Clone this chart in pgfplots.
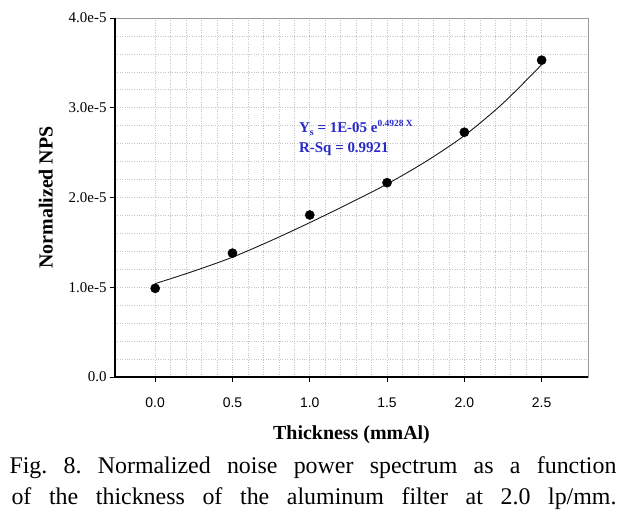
\documentclass[border=0pt]{standalone}
\usepackage{fontspec}
\setmainfont{Liberation Serif}
\newfontfamily\arialfont{Liberation Sans}
\usepackage{pgfplots}
\pgfplotsset{compat=1.18}
\definecolor{annblue}{RGB}{40,40,200}
\begin{document}
\frenchspacing
\begin{tikzpicture}
\useasboundingbox (0,0) rectangle (627bp,518bp);
\begin{axis}[
  at={(115bp,141bp)}, anchor=south west,
  scale only axis, width=473bp, height=359bp,
  xmin=-0.26, xmax=2.8, ymin=0, ymax=4,
  xtick={0,0.5,1,1.5,2,2.5},
  xticklabels={0.0,0.5,1.0,1.5,2.0,2.5},
  ytick={0,1,2,3,4},
  yticklabels={0.0,1.0e-5,2.0e-5,3.0e-5,4.0e-5},
  minor x tick num=4, minor y tick num=4,
  grid=both,
  major grid style={gray!45, dotted, line width=0.6pt},
  minor grid style={gray!45, dotted, line width=0.6pt},
  tick pos=left, tick align=outside,
  major tick length=5bp, minor tick length=0pt,
  tick style={black, line width=0.8pt},
  axis line style={draw=gray!80, line width=0.8pt},
  xticklabel style={font=\arialfont\fontsize{14}{16}\selectfont, yshift=-12bp},
  yticklabel style={font=\fontsize{15}{17}\selectfont},
  xlabel={\textbf{Thickness (mmAl)}},
  ylabel={\textbf{Normalized NPS}},
  xlabel style={font=\fontsize{20}{23}\selectfont, yshift=-11bp},
  ylabel style={font=\fontsize{20}{23}\selectfont, yshift=9bp},
  after end axis/.code={
    \draw[black, line width=1.1pt] (rel axis cs:0,1) -- (rel axis cs:0,0) -- (rel axis cs:1,0);
  },
]
\addplot[gray!20!black, line width=0.9pt, smooth] coordinates {
  (0,1.04) (0.25,1.18) (0.5,1.335) (0.75,1.52) (1.0,1.72)
  (1.25,1.93) (1.5,2.15) (1.75,2.40) (2.0,2.69) (2.25,3.05) (2.5,3.48)
};
\addplot[only marks, mark=*, mark size=4.6bp, black] coordinates {
  (0,0.988) (0.5,1.38) (1.0,1.805) (1.5,2.165) (2.0,2.727) (2.5,3.53)
};
\node[anchor=west, text=annblue, font=\bfseries\fontsize{15}{17}\selectfont, inner sep=0pt]
  at (axis cs:0.93,2.78) {Y\raisebox{-3bp}{\fontsize{10}{11}\selectfont s} = 1E-05 e\raisebox{6bp}{\fontsize{9.5}{10}\selectfont 0.4928 X}};
\node[anchor=west, text=annblue, font=\bfseries\fontsize{15}{17}\selectfont, inner sep=0pt]
  at (axis cs:0.93,2.54) {R-Sq = 0.9921};
\end{axis}
\node[anchor=base] at (313bp,44bp) {\fontsize{24}{28}\selectfont\makebox[607bp][s]{Fig. 8. Normalized noise power spectrum as a function}};
\node[anchor=base] at (314bp,14bp) {\fontsize{24}{28}\selectfont\makebox[605bp][s]{of the thickness of the aluminum filter at 2.0 lp/mm.}};
\end{tikzpicture}
\end{document}
